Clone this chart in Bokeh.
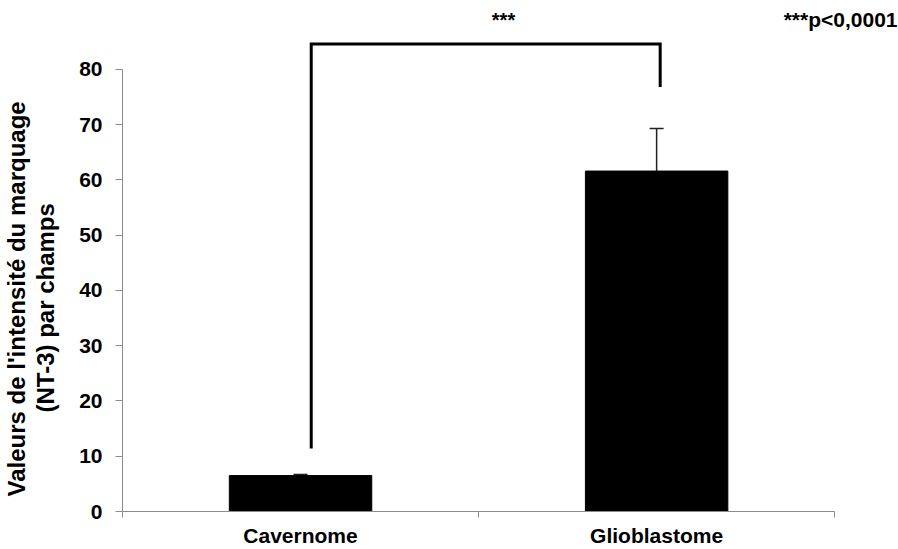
from bokeh.plotting import figure
from bokeh.models import Range1d, FixedTicker, ColumnDataSource, Whisker, TeeHead, Label, Title
from bokeh.embed import file_html
from bokeh.resources import INLINE

categories = ["Cavernome", "Glioblastome"]
means = [6.5, 61.6]
errors = [0.2, 7.7]
y_ticks = [0, 10, 20, 30, 40, 50, 60, 70, 80]
y_label_lines = ["Valeurs de l'intensité du marquage", "(NT-3) par champs"]
sig_x = [0.53, 0.53, 1.51, 1.51]
sig_y = [11.4, 84.6, 84.6, 76.8]
sig_star = "***"
sig_note = "***p<0,0001"

FONT = "Liberation Sans"
GREY = "#8c8c8c"

n = len(categories)
centers = [i + 0.5 for i in range(n)]
bounds = [float(i) for i in range(n + 1)]

p = figure(width=898, height=549, output_backend="svg", toolbar_location=None,
           x_range=Range1d(0, n * 778 / 714), y_range=Range1d(0, 92.46),
           min_border_left=120, min_border_right=0, min_border_top=0, min_border_bottom=37)
p.outline_line_color = None
p.grid.visible = False

src = ColumnDataSource(dict(x=centers, top=means,
                            upper=[m + e for m, e in zip(means, errors)], lower=means))
p.vbar(x="x", top="top", width=0.4, source=src, fill_color="black", line_color="black")

w = Whisker(base="x", upper="upper", lower="lower", source=src, line_color="#222222", line_width=1.5,
            upper_head=TeeHead(size=14, line_width=1.5, line_color="#222222"), lower_head=None)
p.add_layout(w)

p.line(sig_x, sig_y, line_color="black", line_width=3, line_join="miter")

# axes
xa = p.xaxis[0]
xa.ticker = FixedTicker(ticks=centers, minor_ticks=bounds)
xa.bounds = (0, n)
xa.major_label_overrides = {c: lab for c, lab in zip(centers, categories)}
xa.major_tick_out = 0
xa.major_tick_in = 0
xa.minor_tick_out = 6
xa.minor_tick_in = 0
xa.minor_tick_line_color = GREY
xa.axis_line_color = GREY
xa.major_label_text_font = FONT
xa.major_label_text_font_style = "bold"
xa.major_label_text_font_size = "21px"
xa.major_label_text_color = "black"
xa.major_label_standoff = 6

ya = p.yaxis[0]
ya.ticker = FixedTicker(ticks=y_ticks)
ya.bounds = (0, 80)
ya.major_tick_out = 7
ya.major_tick_in = 0
ya.minor_tick_line_color = None
ya.major_tick_line_color = GREY
ya.axis_line_color = GREY
ya.major_label_text_font = FONT
ya.major_label_text_font_style = "bold"
ya.major_label_text_font_size = "21px"
ya.major_label_text_color = "black"
ya.major_label_standoff = 13

# spacer between the tick labels and the y-axis title
p.add_layout(Title(text=" ", text_font_size="14px", standoff=0), "left")

# y-axis title: two lines, inner line first, placed from the bottom
for line_text, off in zip(reversed(y_label_lines), [99, 15]):
    p.add_layout(Title(text=line_text, align="left", offset=off, standoff=0,
                       text_font=FONT, text_font_style="bold", text_font_size="24px",
                       text_line_height=0.92, text_color="black"), "left")

p.add_layout(Label(x=1.07, y=88.85, text=sig_star, text_align="center", text_baseline="middle",
                   text_font=FONT, text_font_style="bold", text_font_size="20px",
                   text_color="black"))
p.add_layout(Label(x=775, y=492, x_units="screen", y_units="screen", text=sig_note,
                   text_align="right", text_baseline="middle",
                   text_font=FONT, text_font_style="bold", text_font_size="21px",
                   text_color="black"))

open("out.html", "w").write(file_html(p, INLINE))
